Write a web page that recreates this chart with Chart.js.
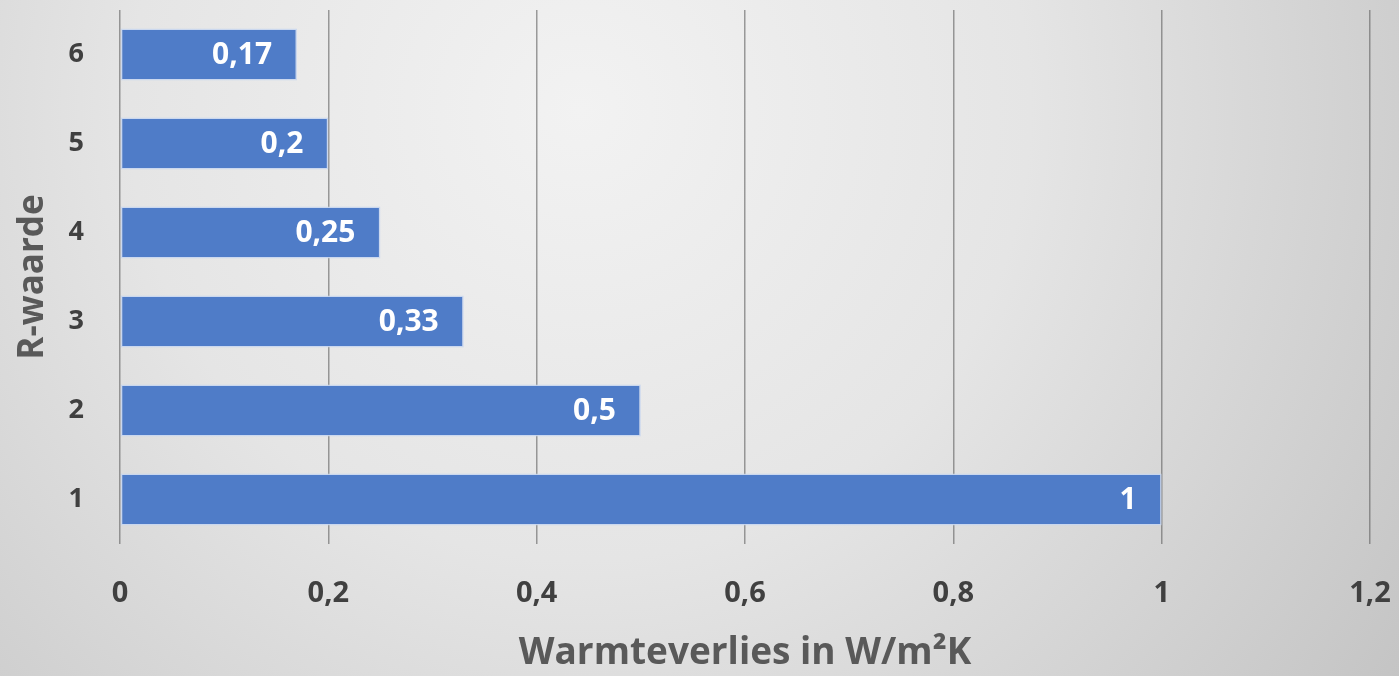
<!DOCTYPE html>
<html>
<head>
<meta charset="utf-8">
<script src="https://cdn.jsdelivr.net/npm/chart.js@4/dist/chart.umd.min.js"></script>
<style>
  html, body { margin: 0; padding: 0; background: #d8d8d8; }
  #wrap { width: 1399px; height: 676px; position: relative; }
</style>
</head>
<body>
<div id="wrap"><canvas id="c" width="1399" height="676"></canvas></div>
<script>
// R-waarde categories and heat loss per category (W/m²K)
const categories = ['1', '2', '3', '4', '5', '6'];
const warmteverlies = [1, 0.5, 0.33, 0.25, 0.2, 0.17];
const xTicks = [0, 0.2, 0.4, 0.6, 0.8, 1, 1.2];
const xTitle = 'Warmteverlies in W/m²K';
const yTitle = 'R-waarde';

const FONT = '"Open Sans", "Noto Sans", sans-serif';
const fmt = v => String(v).replace('.', ',');

// soft grey radial backdrop
const backdrop = {
  id: 'backdrop',
  beforeDraw(chart) {
    const { ctx, width, height } = chart;
    const g = ctx.createRadialGradient(580, 110, 0, 580, 110, 1000);
    g.addColorStop(0, '#f2f2f2');
    g.addColorStop(0.45, '#e5e5e5');
    g.addColorStop(1, '#c4c4c4');
    ctx.save();
    ctx.fillStyle = g;
    ctx.fillRect(0, 0, width, height);
    ctx.restore();
  }
};

// value labels inside the bar ends
const valueLabels = {
  id: 'valueLabels',
  afterDraw(chart) {
    const { ctx } = chart;
    const meta = chart.getDatasetMeta(0);
    ctx.save();
    ctx.font = `bold 30px ${FONT}`;
    ctx.fillStyle = '#ffffff';
    ctx.textAlign = 'right';
    ctx.textBaseline = 'middle';
    meta.data.forEach((bar, i) => {
      ctx.fillText(fmt(warmteverlies[i]), bar.x - 25, bar.y + 1);
    });
    ctx.restore();
  }
};

new Chart(document.getElementById('c'), {
  type: 'bar',
  data: {
    labels: categories,
    datasets: [{
      data: warmteverlies,
      backgroundColor: '#4f7cc8',
      borderColor: 'rgba(200,214,240,0.9)',
      borderWidth: 1.5,
      borderSkipped: false,
      categoryPercentage: 1,
      barPercentage: 0.585
    }]
  },
  options: {
    indexAxis: 'y',
    responsive: false,
    animation: false,
    layout: { padding: { top: 10, right: 29, left: 0, bottom: 0 } },
    plugins: { legend: { display: false }, tooltip: { enabled: false } },
    scales: {
      x: {
        type: 'linear',
        min: 0,
        max: 1.2,
        z: 1,
        afterBuildTicks: s => { s.ticks = xTicks.map(v => ({ value: v })); },
        afterFit: s => { s.height = 132; s.paddingLeft = 0; s.paddingRight = 0; },
        grid: { color: 'rgba(95,95,95,0.6)', lineWidth: 1.5, drawTicks: false },
        border: { display: false },
        ticks: {
          padding: 32,
          color: '#404040',
          font: { family: FONT, size: 29, weight: 'bold' },
          callback: v => fmt(v)
        },
        title: {
          display: true,
          text: xTitle,
          color: '#595959',
          font: { family: FONT, size: 37, weight: 'bold' },
          padding: { top: 0, bottom: 0 }
        }
      },
      y: {
        reverse: true,
        afterFit: s => { s.width = 120; s.paddingTop = 0; s.paddingBottom = 0; },
        grid: { display: false, drawTicks: false },
        border: { display: false },
        ticks: {
          padding: 36,
          color: '#404040',
          font: { family: FONT, size: 27, weight: 'bold' }
        },
        title: {
          display: true,
          text: yTitle,
          color: '#595959',
          font: { family: FONT, size: 35, weight: 'bold' },
          padding: { top: 12, bottom: 0 }
        }
      }
    }
  },
  plugins: [backdrop, valueLabels]
});
</script>
</body>
</html>
